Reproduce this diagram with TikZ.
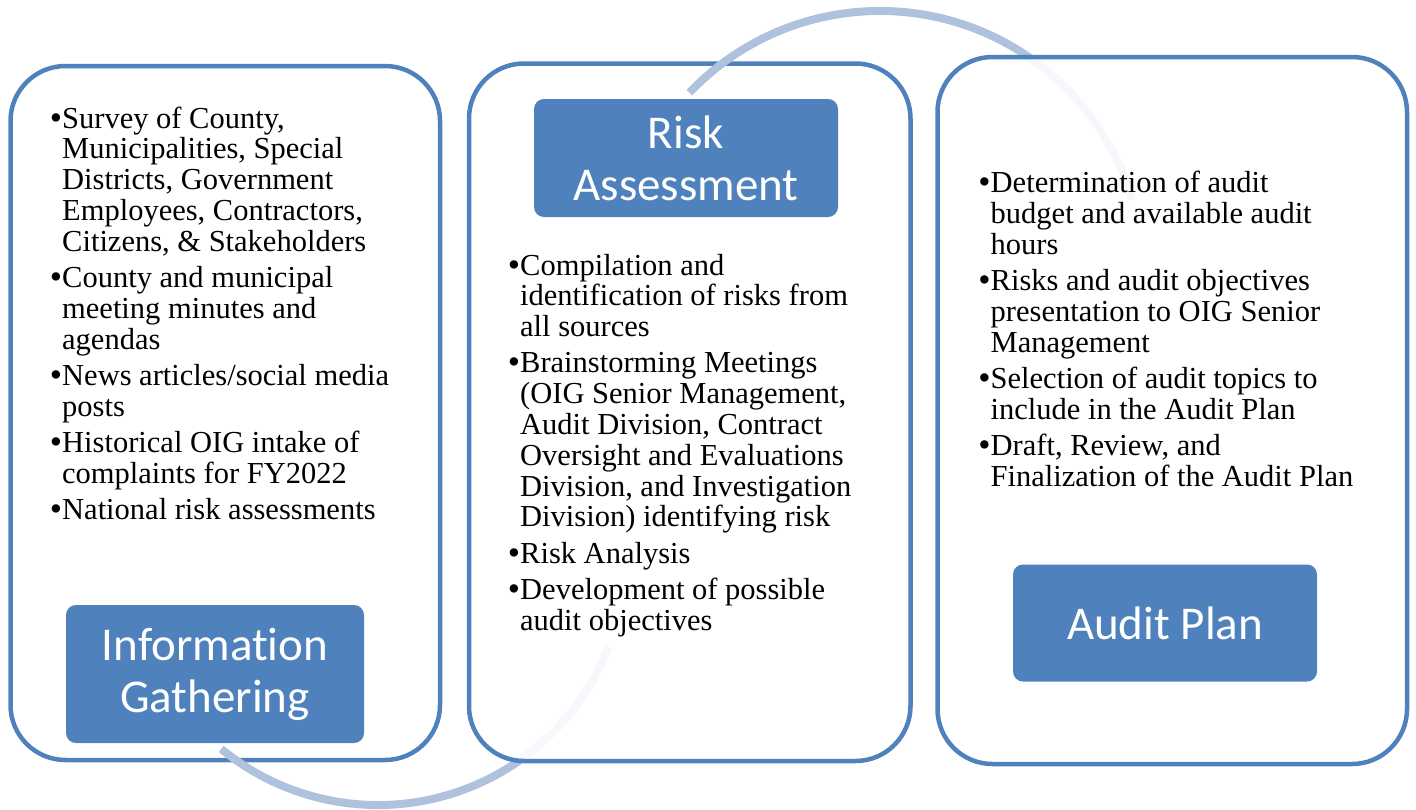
\documentclass[tikz,border=0pt]{standalone}
\usepackage{fontspec}
\setmainfont{Liberation Serif}
\newfontfamily\titlefont[Ligatures=NoCommon]{Carlito}
\definecolor{acc}{RGB}{79,129,189}
\definecolor{ringc}{RGB}{176,193,222}
\newcommand{\bi}{\leavevmode\llap{\raisebox{-1pt}{\fontsize{35}{30}\selectfont\textbullet}}}
\tikzset{
  body/.style={draw=acc, line width=4.5pt, fill=white, fill opacity=0.9, draw opacity=1,
    rounded corners=55pt, inner sep=0pt},
  titlebox/.style={fill=acc, rounded corners=10pt, text=white, align=center, inner sep=0pt,
    font=\titlefont\fontsize{47}{52}\selectfont},
  ring/.style={draw=ringc, line width=8pt},
  bul/.style={inner sep=0pt, anchor=base west, font=\fontsize{30.5}{30.8}\selectfont}
}
\begin{document}
\begin{tikzpicture}[x=1pt,y=-1pt]
\useasboundingbox (0,0) rectangle (1416,809);
% box 1
\node[body, minimum width=429.5pt, minimum height=694pt] (B1) at (225.25,413) {};
% ring 1
\coordinate (a1s) at (221.2,748.9);
\draw[ring] (a1s) arc[start angle=129.4, end angle=21, radius=247];
% box 2
\node[body, minimum width=441.5pt, minimum height=697.5pt] (B2) at (689.75,412.25) {};
% ring 2
\coordinate (a2s) at (689.5,92.6);
\draw[ring] (a2s) arc[start angle=-136.4, end angle=-16.3, radius=263];
% box 3
\node[body, minimum width=469.5pt, minimum height=707pt] (B3) at (1172.25,410.5) {};
% titles
\node[titlebox, minimum width=298pt, minimum height=138pt] (I) at (215,674) {Information\\Gathering};
\node[titlebox, minimum width=304pt, minimum height=118pt] (R) at (686,158) {Risk\\Assessment};
\node[titlebox, minimum width=304pt, minimum height=117pt] (A) at (1165,623) {Audit Plan};
% bullet texts
\node[bul] (T1) at (62,128) {\parbox[t]{370pt}{\raggedright\fontsize{30.5}{30.8}\selectfont
\bi Survey of County,\\Municipalities, Special\\Districts, Government\\Employees, Contractors,\\Citizens, \& Stakeholders\\[5.5pt]
\bi County and municipal\\meeting minutes and\\agendas\\[5.5pt]
\bi News articles/social media\\posts\\[5.5pt]
\bi Historical OIG intake of\\complaints for FY2022\\[5.5pt]
\bi National risk assessments}};
\node[bul] (T2) at (520,275) {\parbox[t]{380pt}{\raggedright\fontsize{30.5}{30.8}\selectfont
\bi Compilation and\\identification of risks from\\all sources\\[5.5pt]
\bi Brainstorming Meetings\\(OIG Senior Management,\\Audit Division, Contract\\Oversight and Evaluations\\Division, and Investigation\\Division) identifying risk\\[5.5pt]
\bi Risk Analysis\\[5.5pt]
\bi Development of possible\\audit objectives}};
\node[bul] (T3) at (990.5,192.7) {\parbox[t]{400pt}{\raggedright\fontsize{30.5}{30.8}\selectfont
\bi Determination of audit\\budget and available audit\\hours\\[5.5pt]
\bi Risks and audit objectives\\presentation to OIG Senior\\Management\\[5.5pt]
\bi Selection of audit topics to\\include in the Audit Plan\\[5.5pt]
\bi Draft, Review, and\\Finalization of the Audit Plan}};
\end{tikzpicture}
\end{document}
